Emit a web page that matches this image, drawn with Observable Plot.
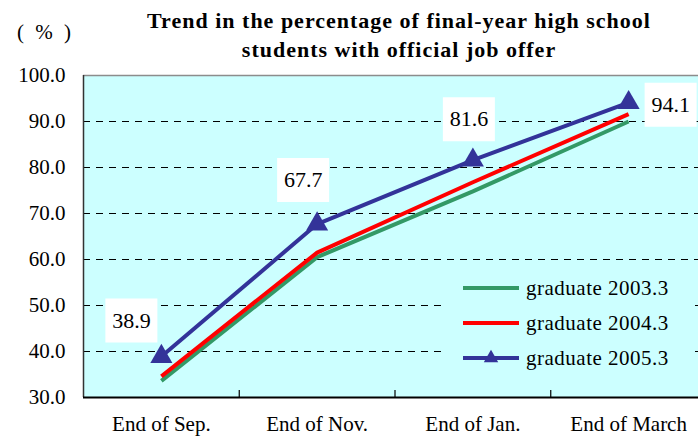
<!DOCTYPE html>
<html>
<head>
<meta charset="utf-8">
<script src="https://cdn.jsdelivr.net/npm/d3@7"></script>
<script src="https://cdn.jsdelivr.net/npm/@observablehq/plot@0.6"></script>
<style>
  html, body { margin: 0; padding: 0; background: #fff; overflow: hidden; }
  #wrap { position: relative; width: 698px; height: 436px; overflow: hidden;
          font-family: "Liberation Serif", "Times New Roman", serif; }
  #title { position: absolute; left: 0; top: 6px; width: 798px; text-align: center;
           font-weight: bold; font-size: 22px; letter-spacing: 1px; line-height: 29px; color: #000; }
  #unit { position: absolute; left: 17px; top: 20px; font-size: 21px; letter-spacing: 3px; color: #000; }
  #chart svg { overflow: hidden; display: block; }
</style>
</head>
<body>
<div id="wrap">
  <div id="chart"></div>
  <div id="unit">( % )</div>
  <div id="title">Trend in the percentage of final-year high school<br>students with official job offer</div>
</div>
<script>
// ---- data ----
const categories = ["End of Sep.", "End of Nov.", "End of Jan.", "End of March"];
const seriesNames = ["graduate 2003.3", "graduate 2004.3", "graduate 2005.3"];
const grad2003 = [33.6, 60.5, 74.8, 90.0];
const grad2004 = [34.6, 61.5, 76.8, 91.6];
const grad2005 = [38.9, 67.7, 81.6, 94.1];
const yTicks = [30, 40, 50, 60, 70, 80, 90, 100];
const gridValues = [40, 50, 60, 70, 80, 90];

// ---- layout / style (not data) ----
const colors = ["#339966", "#FF0000", "#333399"];
const labelOffsets = [[-30, -36], [-14, -44], [-4, -41], [42, 2]];
const font = '"Liberation Serif", "Times New Roman", serif';

const seriesValues = [grad2003, grad2004, grad2005];
const rows = [];
seriesValues.forEach((vals, s) => vals.forEach((v, i) => rows.push({series: seriesNames[s], i, value: v})));
const idx = categories.map((c, i) => i);

// white label box as a custom symbol
const boxSymbol = {draw(ctx) { ctx.moveTo(-26, -22); ctx.lineTo(26, -22); ctx.lineTo(26, 22); ctx.lineTo(-26, 22); ctx.closePath(); }};

const labelMarks = labelOffsets.flatMap((o, i) => [
  Plot.dot([i], {x: d => d, y: d => grad2005[d], dx: o[0], dy: o[1], symbol: boxSymbol,
                 r: 5, fill: "#fff", stroke: null}),
  Plot.text([i], {
    x: d => d, y: d => grad2005[d], text: d => grad2005[d].toFixed(1),
    dx: o[0], dy: o[1], fontSize: 22, fontFamily: font, fill: "#000",
    textAnchor: "middle", lineAnchor: "middle"
  })
]);

const chart = Plot.plot({
  width: 698, height: 436,
  marginLeft: 83, marginRight: 0, marginTop: 75, marginBottom: 39,
  x: {type: "linear", domain: [-0.5, 3.5], range: [83, 706]},
  y: {domain: [30, 100]},
  color: {domain: seriesNames, range: colors},
  style: {fontFamily: font, fontSize: "21px", background: "transparent", color: "#000"},
  marks: [
    Plot.frame({fill: "#CCFFFF", stroke: null}),
    Plot.ruleY(gridValues, {stroke: "#000", strokeDasharray: "7,6", strokeWidth: 1}),
    Plot.ruleY([100], {stroke: "#8c8c8c", strokeWidth: 1.5}),
    Plot.axisY({ticks: yTicks, tickFormat: d => d.toFixed(1), tickSize: 0, tickPadding: 18,
                fontSize: 21, fontFamily: font, label: null, letterSpacing: 1}),
    Plot.ruleX([-0.5], {stroke: "#333", strokeWidth: 1.5}),
    Plot.axisX({ticks: [0.5, 1.5, 2.5], tickSize: -7, tickFormat: () => "", label: null,
                stroke: "#000", strokeWidth: 1.2}),
    Plot.axisX({ticks: idx, tickSize: 0, tickPadding: 19, tickFormat: i => categories[i],
                fontSize: 21, fontFamily: font, label: null, letterSpacing: 0.5}),
    Plot.ruleY([30], {stroke: "#000", strokeWidth: 2}),
    Plot.line(rows, {x: "i", y: "value", z: "series", stroke: "series", strokeWidth: 4,
                     strokeLinecap: "butt", strokeLinejoin: "miter"}),
    Plot.dot(idx, {x: d => d, y: d => grad2005[d], symbol: "triangle", r: 8.2,
                   fill: colors[2], stroke: null}),
    ...labelMarks
  ]
});

document.getElementById("chart").appendChild(chart);

// legend inside the plot area
const svg = d3.select(chart);
const lg = svg.append("g").attr("aria-label", "legend");
lg.append("rect").attr("x", 441).attr("y", 266).attr("width", 254).attr("height", 112).attr("fill", "#CCFFFF");
const rowY = [288, 323, 358];
seriesNames.forEach((name, s) => {
  lg.append("line").attr("x1", 463).attr("x2", 519).attr("y1", rowY[s]).attr("y2", rowY[s])
    .attr("stroke", colors[s]).attr("stroke-width", 4);
  if (s === 2) {
    lg.append("path").attr("d", d3.symbol(d3.symbolTriangle, 90)())
      .attr("transform", `translate(491,${rowY[s]})`).attr("fill", colors[s]);
  }
  lg.append("text").attr("x", 526).attr("y", rowY[s] + 7).attr("font-size", 21)
    .attr("text-anchor", "start").attr("letter-spacing", 0.5)
    .attr("font-family", font).attr("fill", "#000").text(name);
});
</script>
</body>
</html>
